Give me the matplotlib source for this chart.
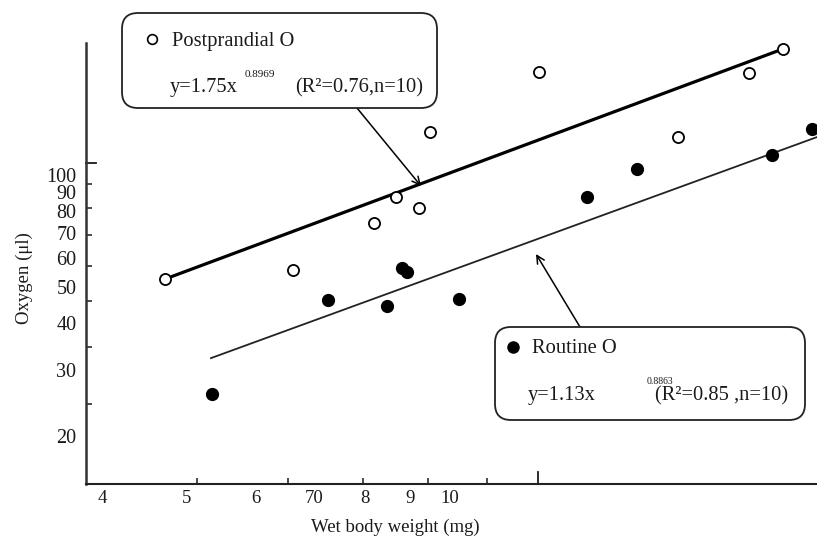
import matplotlib
matplotlib.use("Agg")
import matplotlib.pyplot as plt
from matplotlib.patches import FancyBboxPatch
from matplotlib.lines import Line2D

plt.rcParams['font.family'] = ['Liberation Serif', 'DejaVu Serif']

# Postprandial O (open circles)
post_weight = [4.72, 6.62, 8.19, 8.68, 9.22, 9.49, 12.65, 18.24, 22.0, 24.06]
post_oxygen = [52.6, 55.6, 74.3, 87.3, 81.6, 130.4, 188.9, 126.4, 187.7, 217.7]

# Routine O (filled circles)
rout_weight = [5.35, 7.25, 8.48, 8.82, 8.93, 10.25, 14.35, 16.38, 23.37, 25.97]
rout_oxygen = [25.9, 46.2, 44.6, 56.3, 55.0, 46.5, 87.3, 103.8, 113.1, 132.8]

# regression lines as drawn in the figure (end points)
post_fit_x = [4.72, 23.86]
post_fit_y = [52.6, 216.3]
rout_fit_x = [5.33, 26.3]
rout_fit_y = [32.3, 126.4]

x_ticks = [4, 5, 6, 7, 8, 9, 10]
x_tick_labels = ['4', '5', '6', '70', '8', '9', '10']
y_ticks = [20, 30, 40, 50, 60, 70, 80, 90, 100]
y_tick_labels = ['20', '30', '40', '50', '60', '70', '80', '90', '100']

# tick marks as printed (not aligned with the labels in the original)
x_marks = [5.14, 6.53, 7.96, 9.44, 11.03]
y_marks = [24.3, 34.6, 45.9, 57.0, 69.0, 81.6, 94.6]
x_long_mark = 12.62
y_long_mark = 107.7

W, H = 817, 543
fig = plt.figure(figsize=(W / 100, H / 100), dpi=100)
ax = fig.add_axes([86 / W, 59 / H, 731 / W, 441 / H])
ink = '#1a1a1a'


def px(x, y):
    # pixel position (from top-left) -> inches for fig.dpi_scale_trans
    return (x / 100, (H - y) / 100)


ax.set_xscale('log')
ax.set_yscale('log')
ax.set_xlim(3.835, 26.3)
ax.set_ylim(14.85, 225.9)

ax.plot(post_fit_x, post_fit_y, color='k', lw=2.3, solid_capstyle='round')
ax.plot(rout_fit_x, rout_fit_y, color='#222222', lw=1.3, clip_on=False)

ax.plot(post_weight, post_oxygen, 'o', ls='none', mfc='white', mec='k',
        ms=8, mew=1.3, zorder=3, clip_on=False)
ax.plot(rout_weight, rout_oxygen, 'o', ls='none', mfc='k', mec='k',
        ms=8.5, zorder=3, clip_on=False)

ax.set_xticks(x_ticks, labels=x_tick_labels)
ax.set_yticks(y_ticks, labels=y_tick_labels)
ax.set_xticks(x_marks, minor=True, labels=[''] * len(x_marks))
ax.set_yticks(y_marks, minor=True, labels=[''] * len(y_marks))
ax.tick_params(which='major', length=0, labelsize=13.5, colors=ink)
ax.tick_params(axis='y', which='major', labelsize=14.5)
ax.tick_params(axis='x', which='major', pad=4)
ax.tick_params(axis='y', which='major', pad=7)
ax.tick_params(which='minor', direction='in', length=4, width=1.1, color=ink)
ax.plot([x_long_mark, x_long_mark], [0, 0.027], transform=ax.get_xaxis_transform(),
        color=ink, lw=1.3, clip_on=False)
ax.plot([0, 0.014], [y_long_mark, y_long_mark], transform=ax.get_yaxis_transform(),
        color=ink, lw=1.3, clip_on=False)

for s in ['top', 'right']:
    ax.spines[s].set_visible(False)
ax.spines['left'].set_linewidth(1.8)
ax.spines['left'].set_color('#333333')
ax.spines['bottom'].set_linewidth(1.5)
ax.spines['bottom'].set_color('#222222')

ax.set_xlabel('Wet body weight (mg)', fontsize=13.5, color=ink)
ax.xaxis.set_label_coords((395 - 86) / 731, -0.079)
ax.set_ylabel('Oxygen (\u03bcl)', fontsize=13.5, color=ink)
ax.yaxis.set_label_coords(-0.0725, 0.468)

tr = fig.dpi_scale_trans
fs = 14.8

# Postprandial box
box1 = FancyBboxPatch(px(122, 108), 3.15, 0.95, boxstyle='round,pad=0,rounding_size=0.16',
                      transform=tr, fc='white', ec='#222222', lw=1.3, zorder=5)
fig.add_artist(box1)
fig.add_artist(Line2D([152 / 100], [(H - 39) / 100], transform=tr, marker='o', ms=7,
                      mfc='white', mec='k', mew=1.2, zorder=6))
fig.text(*px(172, 46), 'Postprandial O', transform=tr, fontsize=fs, color=ink, zorder=6)
fig.text(*px(170, 92), 'y=1.75x', transform=tr, fontsize=fs, color=ink, zorder=6)
fig.text(*px(245, 77), '0.8969', transform=tr, fontsize=8, color=ink, zorder=6)
fig.text(*px(295, 92), '(R\u00b2=0.76,n=10)', transform=tr, fontsize=fs, color=ink, zorder=6)
ax.annotate('', xy=px(421, 186), xytext=px(357, 108), xycoords=tr, textcoords=tr,
            arrowprops=dict(arrowstyle='->', color='k', lw=1.1, mutation_scale=14,
                            shrinkA=0, shrinkB=0), annotation_clip=False, zorder=6)

# Routine box
box2 = FancyBboxPatch(px(495, 420), 3.10, 0.93, boxstyle='round,pad=0,rounding_size=0.16',
                      transform=tr, fc='white', ec='#222222', lw=1.3, zorder=5)
fig.add_artist(box2)
fig.add_artist(Line2D([513 / 100], [(H - 347) / 100], transform=tr, marker='o', ms=8,
                      mfc='k', mec='k', zorder=6))
fig.text(*px(532, 353), 'Routine O', transform=tr, fontsize=fs, color=ink, zorder=6)
fig.text(*px(528, 400), 'y=1.13x', transform=tr, fontsize=fs, color=ink, zorder=6)
fig.text(*px(647, 384), '0.8863', transform=tr, fontsize=7, color=ink, zorder=6)
fig.text(*px(655, 400), '(R\u00b2=0.85 ,n=10)', transform=tr, fontsize=fs, color=ink, zorder=6)
ax.annotate('', xy=px(536, 254), xytext=px(580, 327), xycoords=tr, textcoords=tr,
            arrowprops=dict(arrowstyle='->', color='k', lw=1.1, mutation_scale=14,
                            shrinkA=0, shrinkB=0), annotation_clip=False, zorder=6)

fig.savefig('out.png', dpi=100)
